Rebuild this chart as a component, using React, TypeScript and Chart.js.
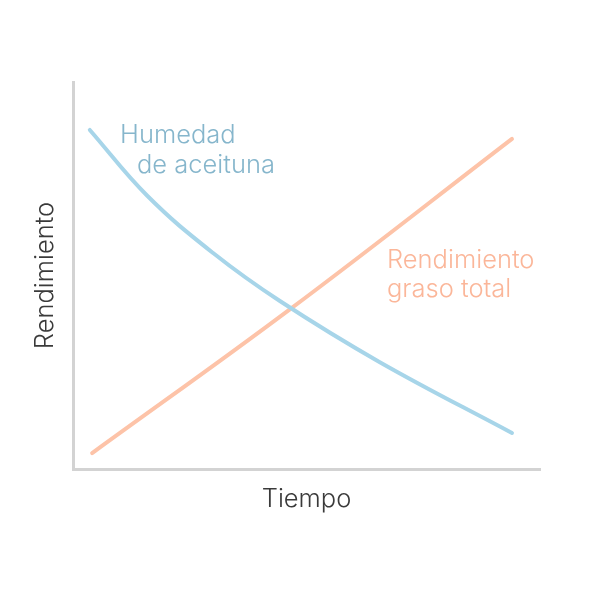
import React, { useEffect, useRef } from "react";
import { Chart, registerables } from "chart.js";

Chart.register(...registerables);

// Time (0-100, arbitrary units) vs yield (0-100, arbitrary units)
const humedadX = [3.6, 15.9, 30.0, 44.3, 65.7, 94.0];
const humedadY = [87.6, 70.6, 55.8, 43.4, 27.6, 9.3];
const grasoX = [4.1, 46.5, 94.0];
const grasoY = [4.1, 41.3, 85.3];

const humedadLabel = ["Humedad", "de aceituna"];
const grasoLabel = ["Rendimiento", "graso total"];
const xTitle = "Tiempo";
const yTitle = "Rendimiento";

const BLUE_LINE = "#a7d5e9";
const BLUE_TEXT = "#86b6cc";
const ORANGE_LINE = "#fdc3a8";
const ORANGE_TEXT = "#fbb699";
const AXIS = "#d3d3d3";
const FONT = "300 25.5px Inter, 'Noto Sans', sans-serif";

const textPlugin = {
  id: "textPlugin",
  afterDraw(chart: any) {
    const { ctx, chartArea } = chart;
    const L = chartArea.left;
    const T = chartArea.top;
    ctx.save();
    ctx.font = FONT;
    ctx.textBaseline = "alphabetic";
    ctx.textAlign = "left";
    // series labels
    ctx.fillStyle = BLUE_TEXT;
    ctx.fillText(humedadLabel[0], L + 47, T + 61);
    ctx.fillText(humedadLabel[1], L + 64, T + 91);
    ctx.fillStyle = ORANGE_TEXT;
    ctx.fillText(grasoLabel[0], L + 314, T + 186);
    ctx.fillText(grasoLabel[1], L + 314, T + 215);
    // axis titles
    ctx.fillStyle = "#3a3a3a";
    ctx.textAlign = "center";
    ctx.fillText(xTitle, (chartArea.left + chartArea.right) / 2, chartArea.bottom + 38);
    ctx.translate(L - 20, (chartArea.top + chartArea.bottom) / 2);
    ctx.rotate(-Math.PI / 2);
    ctx.fillText(yTitle, 0, 0);
    ctx.restore();
  },
};

export default function App() {
  const ref = useRef<HTMLCanvasElement>(null);
  useEffect(() => {
    if (!ref.current) return;
    const chart = new Chart(ref.current, {
      type: "line",
      data: {
        datasets: [
          {
            label: humedadLabel.join(" "),
            data: humedadX.map((x, i) => ({ x, y: humedadY[i] })),
            borderColor: BLUE_LINE,
            borderWidth: 4,
            pointRadius: 0,
            tension: 0.4,
            borderCapStyle: "round",
            fill: false,
          },
          {
            label: grasoLabel.join(" "),
            data: grasoX.map((x, i) => ({ x, y: grasoY[i] })),
            borderColor: ORANGE_LINE,
            borderWidth: 4,
            pointRadius: 0,
            tension: 0.4,
            borderCapStyle: "round",
            fill: false,
          },
        ],
      },
      options: {
        animation: false,
        responsive: false,
        layout: { padding: { left: 73, right: 60, top: 82, bottom: 131 } },
        plugins: { legend: { display: false }, tooltip: { enabled: false } },
        scales: {
          x: {
            type: "linear",
            min: 0,
            max: 100,
            grid: { display: false, drawTicks: false },
            ticks: { display: false },
            border: { color: AXIS, width: 3 },
            afterFit: (s: any) => { s.height = 0; },
          },
          y: {
            type: "linear",
            min: 0,
            max: 100,
            grid: { display: false, drawTicks: false },
            ticks: { display: false },
            border: { color: AXIS, width: 3 },
            afterFit: (s: any) => { s.width = 0; },
          },
        },
      } as any,
      plugins: [textPlugin],
    });
    return () => chart.destroy();
  }, []);
  return (
    <div style={{ position: "absolute", left: 0, top: 0, width: 600, height: 600, background: "#fff" }}>
      <canvas ref={ref} width={600} height={600} />
    </div>
  );
}
